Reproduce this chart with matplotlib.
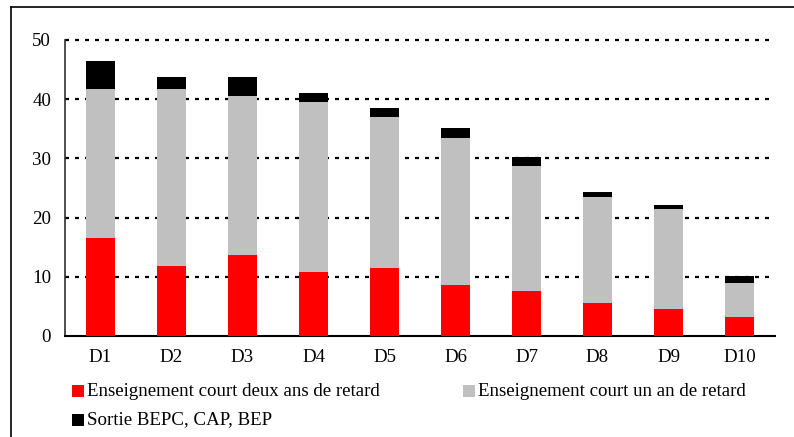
import matplotlib
matplotlib.use("Agg")
import matplotlib.pyplot as plt
from matplotlib.patches import Rectangle
from matplotlib.lines import Line2D

categories = ["D1", "D2", "D3", "D4", "D5", "D6", "D7", "D8", "D9", "D10"]
deux_ans = [16.6, 11.8, 13.7, 10.8, 11.5, 8.6, 7.6, 5.6, 4.6, 3.2]
un_an = [25.1, 29.9, 26.8, 28.7, 25.5, 24.8, 21.1, 17.9, 16.9, 5.8]
sortie = [4.7, 2.0, 3.2, 1.5, 1.5, 1.7, 1.5, 0.8, 0.6, 1.1]
yticks = [0, 10, 20, 30, 40, 50]

labels = ["Enseignement court deux ans de retard",
          "Enseignement court un an de retard",
          "Sortie BEPC, CAP, BEP"]
colors = ["#FF0000", "#C0C0C0", "#000000"]

plt.rcParams['font.family'] = ['Liberation Serif', 'DejaVu Serif']
FS = 13.6

W, H = 794, 437
fig = plt.figure(figsize=(W / 100, H / 100), dpi=100)
ax = fig.add_axes([65 / W, 1 - 336 / H, (775 - 65) / W, (336 - 40) / H])

x = list(range(len(categories)))
bottom2 = [a + b for a, b in zip(deux_ans, un_an)]
ax.bar(x, deux_ans, width=0.41, color=colors[0], zorder=3)
ax.bar(x, un_an, bottom=deux_ans, width=0.41, color=colors[1], zorder=3)
ax.bar(x, sortie, bottom=bottom2, width=0.41, color=colors[2], zorder=3)

ax.set_xlim(-0.5, len(categories) - 0.5)
ax.set_ylim(0, 50)
ax.set_yticks(yticks)
ax.set_xticks(x)
ax.set_xticklabels(categories)
ax.tick_params(axis='both', length=0, labelsize=FS)
ax.tick_params(axis='y', pad=10)
ax.tick_params(axis='x', pad=9)

for v in yticks[1:]:
    ax.plot([-0.5, len(categories) - 0.55], [v, v], color='black',
            lw=1.6, linestyle=(0, (1.8, 2.7)), zorder=1, clip_on=False)

for s in ['top', 'right']:
    ax.spines[s].set_visible(False)
ax.spines['left'].set_color('#303030')
ax.spines['left'].set_linewidth(1.2)
ax.spines['bottom'].set_color('black')
ax.spines['bottom'].set_linewidth(1.5)

# legend (manual layout)
def px(xp, yp):
    return xp / W, 1 - yp / H

entries = [(0, 72, 391), (1, 463, 391), (2, 72, 420)]
for idx, xp, yc in entries:
    x0, y0 = px(xp, yc + 6)
    fig.add_artist(Rectangle((x0, y0), 12 / W, 12 / H, transform=fig.transFigure,
                             facecolor=colors[idx], edgecolor='none'))
    tx, ty = px(xp + 15, yc)
    fig.text(tx, ty, labels[idx], fontsize=FS, va='center', ha='left')

# outer frame
fig.add_artist(Line2D([11 / W, 11 / W], [0, 1 - 7 / H], color='black', lw=1.2,
                      transform=fig.transFigure))
fig.add_artist(Line2D([11 / W, 1], [1 - 7 / H, 1 - 7 / H], color='black', lw=1.2,
                      transform=fig.transFigure))

fig.savefig("out.png", dpi=100)
